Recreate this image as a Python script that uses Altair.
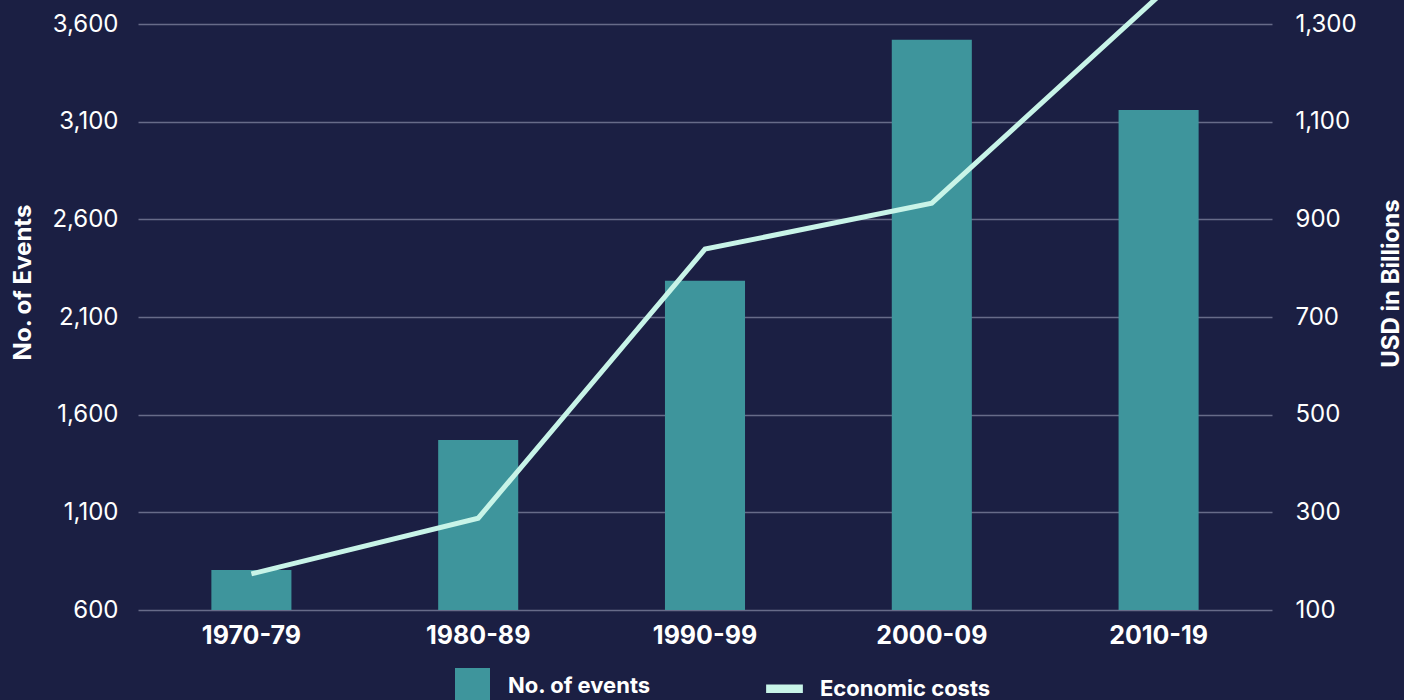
import altair as alt
import pandas as pd

decades = ["1970-79", "1980-89", "1990-99", "2000-09", "2010-19"]
events = [805, 1470, 2285, 3520, 3160]
costs = [174, 288, 839, 933, 1357]
series = ["No. of events", "Economic costs"]
event_ticks = [600, 1100, 1600, 2100, 2600, 3100, 3600]
cost_ticks = [100, 300, 500, 700, 900, 1100, 1300]

BG = "#1b1f43"
BAR = "#3e959c"
LINE = "#c8f4e8"
GRID = "#676b89"
FONT = "Inter"

df = pd.DataFrame({"decade": decades, "events": events, "costs": costs})
leg = pd.DataFrame({"series": series})

x = alt.X(
    "decade:N",
    sort=decades,
    scale=alt.Scale(paddingInner=0.647, paddingOuter=0.3235),
    axis=alt.Axis(
        title=None, labelAngle=0, labelFontSize=25, labelFontWeight="bold",
        labelPadding=13, ticks=False, domain=False, grid=False,
    ),
)

bars = alt.Chart(df).mark_bar(color=BAR).encode(
    x=x,
    y=alt.Y(
        "events:Q",
        scale=alt.Scale(domain=[600, 3600], nice=False, zero=False),
        axis=alt.Axis(
            values=event_ticks, format=",d", title="No. of Events",
            grid=True, gridColor=GRID, gridWidth=1.5,
            labelPadding=20, titlePadding=16, titleY=258,
        ),
    ),
    y2=alt.datum(600),
)

legend = alt.Legend(
    title=None, orient="none", direction="horizontal", legendX=317, legendY=644,
    labelFont=FONT, labelFontSize=22, labelFontWeight="bold", labelColor="#ffffff",
    labelLimit=400,
    symbolSize=1225, symbolOpacity=1, symbolStrokeWidth=0, labelOffset=18,
    columnPadding=115, padding=0,
)

keys = alt.Chart(leg).mark_point(filled=True, opacity=0).encode(
    color=alt.Color("series:N", scale=alt.Scale(domain=series, range=[BAR, LINE]), legend=legend),
    shape=alt.Shape("series:N", scale=alt.Scale(domain=series, range=["square", "M-1.05,-0.24H1.05V0.24H-1.05Z"]), legend=legend),
)

line = alt.Chart(df).mark_line(color=LINE, strokeWidth=5, clip=False).encode(
    x=x,
    y=alt.Y(
        "costs:Q",
        scale=alt.Scale(domain=[100, 1300], nice=False, zero=False),
        axis=alt.Axis(
            orient="right", values=cost_ticks, format=",d", title="USD in Billions",
            grid=False, labelPadding=23, titleAngle=270, titleY=259,
            titleX=126, titleBaseline="alphabetic",
        ),
    ),
)

chart = alt.layer(alt.layer(bars, keys), line).resolve_scale(y="independent").properties(
    width=1134, height=586,
    background=BG,
    padding={"left": 138, "top": 24, "right": 132, "bottom": 90},
    autosize=alt.AutoSizeParams(type="none"),
).configure_view(stroke=None).configure_axis(
    labelFont=FONT, titleFont=FONT, labelColor="#ffffff", titleColor="#ffffff",
    labelFontSize=24, titleFontSize=24, titleFontWeight="bold",
    ticks=False, domain=False,
)

chart.save("out.html", embed_options={"renderer": "svg", "actions": False})
